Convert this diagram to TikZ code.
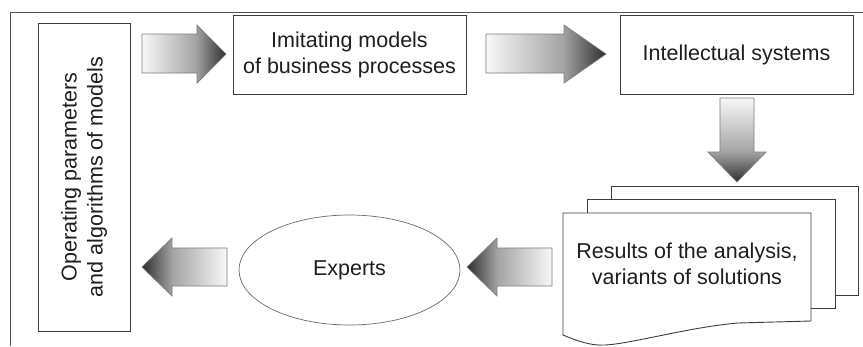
\documentclass[tikz,border=0pt]{standalone}
\usepackage{fontspec}
\setmainfont{Liberation Sans}
\usetikzlibrary{shapes.geometric}

\definecolor{linegray}{HTML}{3C3C3C}
\definecolor{framegray}{HTML}{505050}
\definecolor{textgray}{HTML}{1E1E1E}
\definecolor{edgegray}{HTML}{7C7C7C}
\definecolor{ellgray}{HTML}{6A6A6A}
\definecolor{arrlight}{HTML}{F8F8F8}
\definecolor{arrmid}{HTML}{A4A4A4}
\definecolor{arrdark}{HTML}{2E2E2E}

% block-arrow shadings: the path's bounding box spans 25bp..75bp
\pgfdeclarehorizontalshading{shadeR}{100bp}{color(0bp)=(arrlight); color(25bp)=(arrlight); color(57bp)=(arrmid); color(75bp)=(arrdark); color(100bp)=(arrdark)}
\pgfdeclarehorizontalshading{shadeL}{100bp}{color(0bp)=(arrdark); color(25bp)=(arrdark); color(43bp)=(arrmid); color(75bp)=(arrlight); color(100bp)=(arrlight)}
\pgfdeclareverticalshading{shadeD}{100bp}{color(0bp)=(arrdark); color(25bp)=(arrdark); color(43bp)=(arrmid); color(75bp)=(arrlight); color(100bp)=(arrlight)}

\begin{document}
\begin{tikzpicture}[x=1pt,y=-1pt,
  lbl/.style={text=textgray, font=\fontsize{21.5}{26}\selectfont, align=center, inner sep=0pt},
  box/.style={lbl, draw=linegray, line width=0.9pt, fill=white},
  blockarrow/.style={draw=edgegray, line width=0.7pt},
  page/.style={draw=linegray, line width=0.9pt, fill=white},
]
\useasboundingbox (0,0) rectangle (863,346);

% outer frame (left and top edges)
\draw[framegray, line width=0.9pt] (10,346) -- (10,12) -- (863,12);

% boxes
\node[box, rotate=90, minimum width=308pt, minimum height=92pt] (ops) at (84,177)
  {Operating parameters\\and algorithms of models};
\node[box, minimum width=233pt, minimum height=79pt] (imit) at (349.5,54.5)
  {Imitating models\\of business processes};
\node[box, minimum width=233pt, minimum height=79pt] (intel) at (736.5,54.5)
  {Intellectual systems};
\node[lbl, ellipse, draw=ellgray, line width=0.7pt, minimum width=221pt, minimum height=110pt] (exp) at (349.5,270)
  {Experts};

% stacked documents
\path[page] (611,186) rectangle (858,295);
\path[page] (587,199) rectangle (835,308);
\path[page] (563,213) -- (811,213) -- (811,321) -- (738,323)
  .. controls (690,327) and (630,344) .. (605,345)
  .. controls (590,346) and (575,340) .. (563,335) -- cycle;
\node[lbl] (res) at (687,264) {Results of the analysis,\\variants of solutions};

% block arrows
\path[blockarrow, shading=shadeR] (142,34) -- (197,34) -- (197,25) -- (226,54) -- (197,83) -- (197,73) -- (142,73) -- cycle;
\path[blockarrow, shading=shadeR] (486,34) -- (564,34) -- (564,25) -- (606,54) -- (564,83) -- (564,73) -- (486,73) -- cycle;
\path[blockarrow, shading=shadeD] (720,98) -- (754,98) -- (754,152) -- (766,152) -- (737,182) -- (708,152) -- (720,152) -- cycle;
\path[blockarrow, shading=shadeL] (552,248) -- (497,248) -- (497,238) -- (467,267) -- (497,296) -- (497,286) -- (552,286) -- cycle;
\path[blockarrow, shading=shadeL] (227,248) -- (172,248) -- (172,238) -- (142,267) -- (172,296) -- (172,286) -- (227,286) -- cycle;
\end{tikzpicture}
\end{document}
